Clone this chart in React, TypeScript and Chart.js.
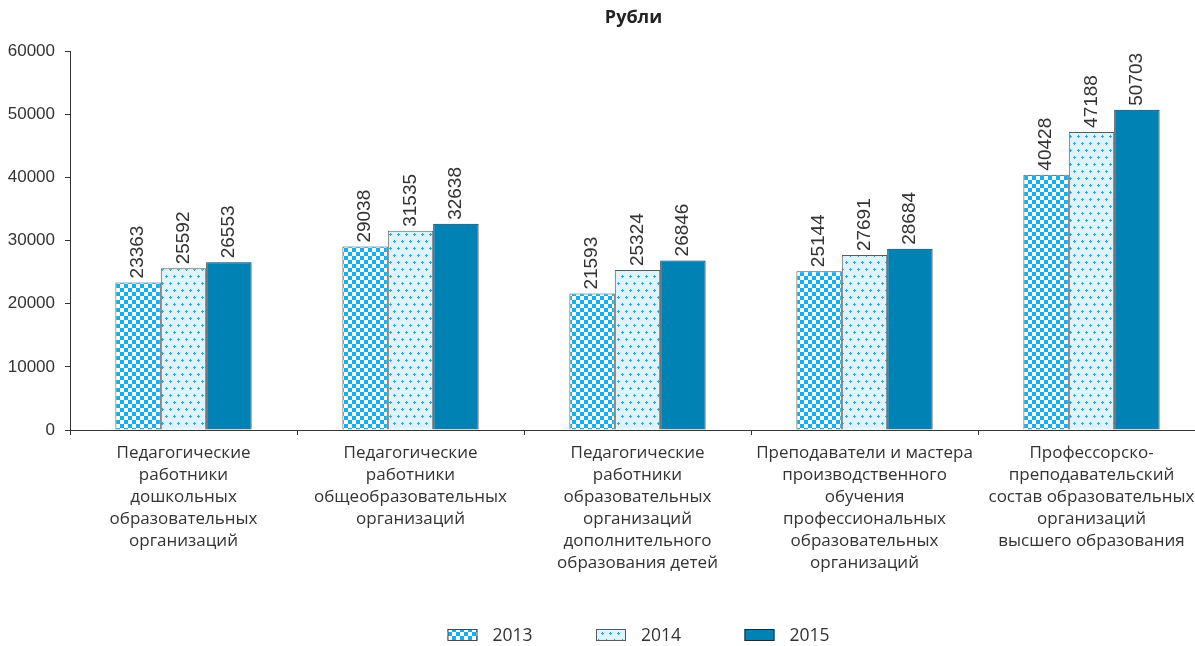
import { useEffect, useRef } from "react";
import { Chart, registerables } from "chart.js";

Chart.register(...registerables);

const categories: string[][] = [
  ["Педагогические", "работники", "дошкольных", "образовательных", "организаций"],
  ["Педагогические", "работники", "общеобразовательных", "организаций"],
  ["Педагогические", "работники", "образовательных", "организаций", "дополнительного", "образования детей"],
  ["Преподаватели и мастера", "производственного", "обучения", "профессиональных", "образовательных", "организаций"],
  ["Профессорско-", "преподавательский", "состав образовательных", "организаций", "высшего образования"],
];
const years = ["2013", "2014", "2015"];
const values2013 = [23363, 29038, 21593, 25144, 40428];
const values2014 = [25592, 31535, 25324, 27691, 47188];
const values2015 = [26553, 32638, 26846, 28684, 50703];
const yMin = 0;
const yMax = 60000;
const yStep = 10000;
const titleText = "Рубли";

const NARROW = '"Liberation Sans Narrow", "Liberation Sans", Arial, sans-serif';
const HUMAN = '"Open Sans", "Noto Sans", sans-serif';

function makeChecker(): CanvasPattern | string {
  const c = document.createElement("canvas");
  c.width = 8;
  c.height = 8;
  const g = c.getContext("2d");
  if (!g) return "#0aa9ec";
  g.fillStyle = "#ffffff";
  g.fillRect(0, 0, 8, 8);
  g.fillStyle = "#12b0f0";
  g.fillRect(0, 0, 4, 4);
  g.fillRect(4, 4, 4, 4);
  return g.createPattern(c, "repeat") || "#0aa9ec";
}

function makeDots(): CanvasPattern | string {
  const c = document.createElement("canvas");
  c.width = 8;
  c.height = 14;
  const g = c.getContext("2d");
  if (!g) return "#dff2fb";
  g.fillStyle = "#e0f3fc";
  g.fillRect(0, 0, 8, 14);
  g.fillStyle = "#22afee";
  const plus = (x: number, y: number) => {
    g.fillRect(x - 1, y, 3, 1);
    g.fillRect(x, y - 1, 1, 3);
  };
  plus(2, 3);
  plus(6, 10);
  return g.createPattern(c, "repeat") || "#dff2fb";
}

export default function App() {
  const ref = useRef<HTMLCanvasElement | null>(null);

  useEffect(() => {
    const canvas = ref.current;
    if (!canvas) return;
    const fills = [makeChecker(), makeDots(), "#0082b4"];
    const borders = ["#4a4a4a", "#5a5a5a", "#1f2a30"];
    const series = [values2013, values2014, values2015];

    const valueLabels = {
      id: "valueLabels",
      afterDatasetsDraw(chart: any) {
        const ctx = chart.ctx;
        ctx.save();
        ctx.font = `19px ${NARROW}`;
        ctx.fillStyle = "#333333";
        ctx.textAlign = "left";
        ctx.textBaseline = "middle";
        chart.data.datasets.forEach((ds: any, di: number) => {
          const meta = chart.getDatasetMeta(di);
          meta.data.forEach((el: any, i: number) => {
            ctx.save();
            ctx.translate(el.x, el.y - 4);
            ctx.rotate(-Math.PI / 2);
            ctx.fillText(String(ds.data[i]), 0, 0);
            ctx.restore();
          });
        });
        ctx.restore();
      },
    };

    const titleAndLegend = {
      id: "titleAndLegend",
      afterDraw(chart: any) {
        const ctx = chart.ctx;
        const ca = chart.chartArea;
        const cx = (ca.left + ca.right) / 2;
        ctx.save();
        ctx.font = `bold 18px ${HUMAN}`;
        ctx.fillStyle = "#222222";
        ctx.textAlign = "center";
        ctx.textBaseline = "middle";
        ctx.fillText(titleText, cx - 4, 18);

        ctx.font = `17.5px ${HUMAN}`;
        const boxW = 30;
        const boxH = 12;
        const gap = 15;
        const stride = 148.5;
        const lastW = ctx.measureText(years[years.length - 1]).width;
        const total = stride * (years.length - 1) + boxW + gap + lastW;
        let x = cx - total / 2 + 1;
        const y = 635;
        ctx.textAlign = "left";
        years.forEach((yr, i) => {
          ctx.fillStyle = fills[i] as any;
          ctx.fillRect(x, y - boxH / 2, boxW, boxH);
          ctx.strokeStyle = borders[i];
          ctx.lineWidth = 1;
          ctx.strokeRect(x + 0.5, y - boxH / 2 + 0.5, boxW - 1, boxH - 1);
          ctx.fillStyle = "#333333";
          ctx.fillText(yr, x + boxW + gap, y + 1);
          x += stride;
        });
        ctx.restore();
      },
    };

    const chart = new Chart(canvas, {
      type: "bar",
      data: {
        labels: categories,
        datasets: years.map((yr, i) => ({
          label: yr,
          data: series[i],
          backgroundColor: fills[i] as any,
          borderColor: borders[i],
          borderWidth: 1,
          borderSkipped: "bottom" as const,
          categoryPercentage: 0.6,
          barPercentage: 1.0,
        })),
      },
      options: {
        responsive: false,
        animation: false,
        devicePixelRatio: 1,
        layout: { padding: { top: 51, left: 0, right: 1, bottom: 0 } },
        plugins: {
          legend: { display: false },
          title: { display: false },
          tooltip: { enabled: false },
        },
        scales: {
          x: {
            grid: {
              display: true,
              drawOnChartArea: false,
              drawTicks: true,
              tickLength: 5,
              color: "#333333",
              offset: true,
            },
            border: { display: true, color: "#333333", width: 1 },
            ticks: {
              autoSkip: false,
              maxRotation: 0,
              minRotation: 0,
              padding: 7,
              color: "#333333",
              font: { family: HUMAN, size: 17, lineHeight: 22 / 17 },
            },
            afterFit(scale: any) {
              scale.height = 646 - 430;
            },
          },
          y: {
            min: yMin,
            max: yMax,
            grid: {
              display: true,
              drawOnChartArea: false,
              drawTicks: true,
              tickLength: 5,
              color: "#333333",
            },
            border: { display: true, color: "#333333", width: 1 },
            ticks: {
              stepSize: yStep,
              padding: 10,
              color: "#333333",
              font: { family: NARROW, size: 17 },
              callback: (v: any) => String(v),
            },
            afterFit(scale: any) {
              scale.width = 70;
            },
          },
        },
      },
      plugins: [valueLabels, titleAndLegend],
    });

    return () => chart.destroy();
  }, []);

  return (
    <div
      style={{
        position: "absolute",
        left: 0,
        top: 0,
        width: 1195,
        height: 646,
        overflow: "hidden",
        background: "#ffffff",
      }}
    >
      <canvas ref={ref} width={1206} height={646} style={{ display: "block", width: 1206, height: 646 }} />
    </div>
  );
}
